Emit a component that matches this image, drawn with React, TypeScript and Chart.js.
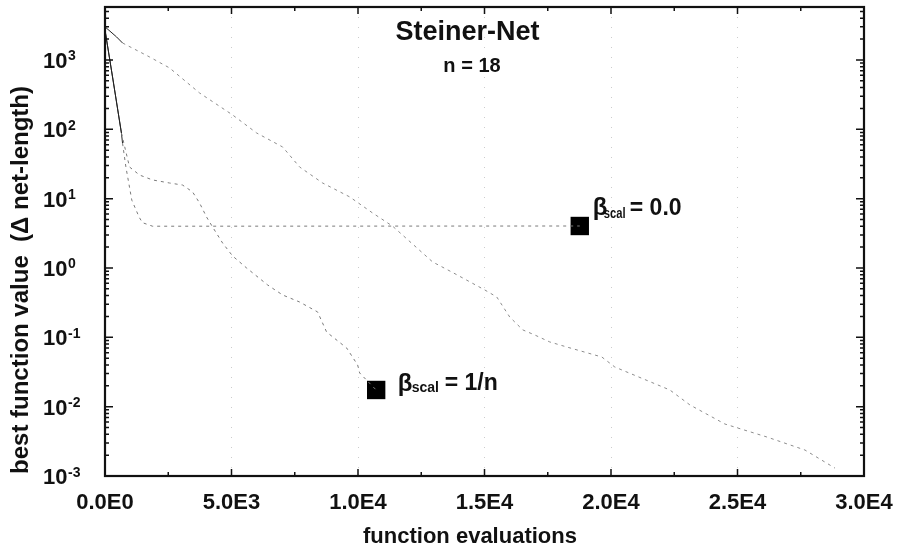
import React, { useEffect, useRef } from 'react';
import { Chart, registerables } from 'chart.js';

Chart.register(...registerables);

// ---- data ----
const xTickValues = [0, 5000, 10000, 15000, 20000, 25000, 30000];
const xTickLabels = ['0.0E0', '5.0E3', '1.0E4', '1.5E4', '2.0E4', '2.5E4', '3.0E4'];
const yTickExponents = [-3, -2, -1, 0, 1, 2, 3];

// unlabeled slow curve
const slowX = [0, 455, 692, 1760, 2551, 3737, 5043, 5992, 7020, 7692, 8602, 9670, 10579, 11370, 12952, 13704, 15010, 15484, 15998, 16512, 16987, 17580, 18252, 19637, 20151, 22326, 23117, 24501, 26162, 27665, 28851];
const slowY = [3000, 2150, 1757, 1105, 767, 334, 161, 88.5, 55.6, 28.6, 16.8, 10.6, 6.2, 4.0, 1.22, 0.875, 0.482, 0.382, 0.196, 0.128, 0.108, 0.0857, 0.0725, 0.052, 0.0373, 0.0174, 0.0106, 0.00562, 0.00365, 0.00237, 0.0013];

// beta_scal = 1/n
const invNX = [0, 317, 650, 969, 1364, 1879, 2551, 3065, 3461, 3737, 4014, 4252, 4648, 5043, 5596, 6427, 7020, 7692, 8404, 8760, 9551, 9986, 10065, 10718];
const invNY = [2700, 514, 88, 28.6, 21.9, 18.6, 16.8, 15.7, 12.5, 8.66, 5.43, 3.9, 2.29, 1.49, 1.0, 0.569, 0.408, 0.323, 0.232, 0.119, 0.0702, 0.0399, 0.0306, 0.0174];

// beta_scal = 0.0
const zeroX = [0, 317, 650, 693, 830, 1060, 1350, 1480, 1880, 18766];
const zeroY = [2700, 514, 88, 63, 28, 9.5, 5.4, 4.5, 4.0, 4.03];

// end markers
const markerX = [18766, 10718];
const markerY = [4.03, 0.0174];
const markerSub = ['scal', 'scal'];
const markerText = ['= 0.0', '= 1/n'];

const FONT = "'Liberation Sans', Arial, sans-serif";

// label layout (pixel offsets from marker centre, subscript horizontal squeeze)
const labelLayout = [
  { bdx: 13, bdy: -11, sdx: 24, sdy: -8, sq: 0.8, tdx: 50, tdy: -11 },
  { bdx: 21.5, bdy: 1, sdx: 35.5, sdy: 2, sq: 1.0, tdx: 68.5, tdy: 0 },
];

const pts = (xs: number[], ys: number[]) => xs.map((x, i) => ({ x, y: ys[i] }));

const decorPlugin = {
  id: 'decor',
  afterDraw(chart: any) {
    const { ctx, chartArea: a, scales } = chart;
    const xs = scales.x;
    const ys = scales.y;
    ctx.save();
    ctx.fillStyle = '#111';
    ctx.strokeStyle = '#111';

    // inward ticks
    ctx.lineWidth = 1.5;
    ctx.beginPath();
    for (let v = 0; v <= 30000; v += 2500) {
      const px = xs.getPixelForValue(v);
      const len = v % 5000 === 0 ? 7 : 4;
      ctx.moveTo(px, a.bottom); ctx.lineTo(px, a.bottom - len);
      ctx.moveTo(px, a.top); ctx.lineTo(px, a.top + len);
    }
    for (let e = -3; e <= 3; e++) {
      for (let m = 1; m <= 9; m++) {
        const v = m * Math.pow(10, e);
        if (v > ys.max || v < ys.min) continue;
        const py = ys.getPixelForValue(v);
        const len = m === 1 ? 8 : 4;
        ctx.moveTo(a.left, py); ctx.lineTo(a.left + len, py);
        ctx.moveTo(a.right, py); ctx.lineTo(a.right - len, py);
      }
    }
    ctx.stroke();

    // frame
    ctx.lineWidth = 2.2;
    ctx.strokeRect(a.left, a.top, a.right - a.left, a.bottom - a.top);

    // y tick labels 10^e
    ctx.textAlign = 'left';
    ctx.textBaseline = 'alphabetic';
    yTickExponents.forEach((e) => {
      const py = ys.getPixelForValue(Math.pow(10, e));
      ctx.font = `bold 22px ${FONT}`;
      ctx.fillText('10', 43, py + 8);
      const w = ctx.measureText('10').width;
      ctx.font = `bold 14px ${FONT}`;
      ctx.fillText(String(e), 43 + w + 0.5, py + 0.5);
    });

    // titles
    ctx.textAlign = 'center';
    ctx.font = `bold 27px ${FONT}`;
    ctx.fillText('Steiner-Net', 467.5, 40);
    ctx.font = `bold 20px ${FONT}`;
    ctx.fillText('n = 18', 472, 72);
    ctx.font = `bold 22px ${FONT}`;
    ctx.fillText('function evaluations', 470, 543);

    ctx.save();
    ctx.translate(28, 280);
    ctx.rotate(-Math.PI / 2);
    ctx.font = `bold 24px ${FONT}`;
    ctx.fillText('best function value  (\u0394 net-length)', 0, 0);
    ctx.restore();

    // marker labels
    ctx.textAlign = 'left';
    markerX.forEach((mx, i) => {
      const px = xs.getPixelForValue(mx);
      const py = ys.getPixelForValue(markerY[i]);
      const L = labelLayout[i];
      ctx.font = `bold 24px ${FONT}`;
      ctx.fillText('\u03B2', px + L.bdx, py + L.bdy);
      ctx.save();
      ctx.translate(px + L.sdx, py + L.sdy);
      ctx.scale(L.sq, 1);
      ctx.font = `bold 14px ${FONT}`;
      ctx.fillText(markerSub[i], 0, 0);
      ctx.restore();
      ctx.font = `bold 23px ${FONT}`;
      ctx.fillText(markerText[i], px + L.tdx, py + L.tdy);
    });

    ctx.restore();
  },
};

const lineStyle = (color: string) => ({
  borderColor: color,
  borderWidth: 1,
  borderDash: [3, 4],
  pointRadius: 0,
  tension: 0,
  fill: false,
  segment: {
    borderColor: (c: any) => (c.p1.parsed.x <= 700 ? '#222' : undefined),
    borderDash: (c: any) => (c.p1.parsed.x <= 700 ? [] : undefined),
  },
});

export default function App() {
  const ref = useRef<HTMLCanvasElement | null>(null);
  useEffect(() => {
    if (!ref.current) return;
    const chart = new Chart(ref.current, {
      type: 'line',
      data: {
        datasets: [
          { label: 'slow', data: pts(slowX, slowY), ...lineStyle('#8c8c8c') } as any,
          { label: 'beta 1/n', data: pts(invNX, invNY), ...lineStyle('#7a7a7a') } as any,
          { label: 'beta 0.0', data: pts(zeroX, zeroY), ...lineStyle('#7a7a7a') } as any,
          {
            type: 'scatter',
            label: 'markers',
            data: pts(markerX, markerY),
            pointStyle: 'rect',
            pointRadius: 13,
            backgroundColor: '#000',
            borderWidth: 0,
            showLine: false,
          } as any,
        ],
      },
      options: {
        animation: false,
        responsive: false,
        maintainAspectRatio: false,
        layout: { autoPadding: false, padding: { top: 7, right: 33, left: 0, bottom: 0 } },
        plugins: { legend: { display: false }, tooltip: { enabled: false }, title: { display: false } },
        scales: {
          x: {
            type: 'linear',
            min: 0,
            max: 30000,
            afterBuildTicks: (s: any) => { s.ticks = xTickValues.map((v) => ({ value: v })); },
            afterFit: (s: any) => { s.height = 72; s.paddingLeft = 0; s.paddingRight = 0; },
            ticks: {
              autoSkip: false,
              maxRotation: 0,
              padding: 14,
              color: '#111',
              font: { family: FONT, size: 22, weight: 'bold' },
              callback: (v: any) => { const i = xTickValues.indexOf(Number(v)); return i >= 0 ? xTickLabels[i] : ''; },
            },
            grid: { display: true, drawOnChartArea: true, drawTicks: false, color: 'rgba(0,0,0,0.2)', lineWidth: 1 },
            border: { display: false, dash: [1, 9] },
          },
          y: {
            type: 'logarithmic',
            min: 0.001,
            max: 5800,
            afterFit: (s: any) => { s.width = 105; s.paddingTop = 0; s.paddingBottom = 0; },
            ticks: { display: false },
            grid: { display: false },
            border: { display: false },
          },
        },
      },
      plugins: [decorPlugin],
    } as any);
    return () => chart.destroy();
  }, []);
  return (
    <div style={{ position: 'absolute', left: 0, top: 0, width: 897, height: 548, background: '#fff' }}>
      <canvas ref={ref} width={897} height={548} style={{ display: 'block' }} />
    </div>
  );
}
